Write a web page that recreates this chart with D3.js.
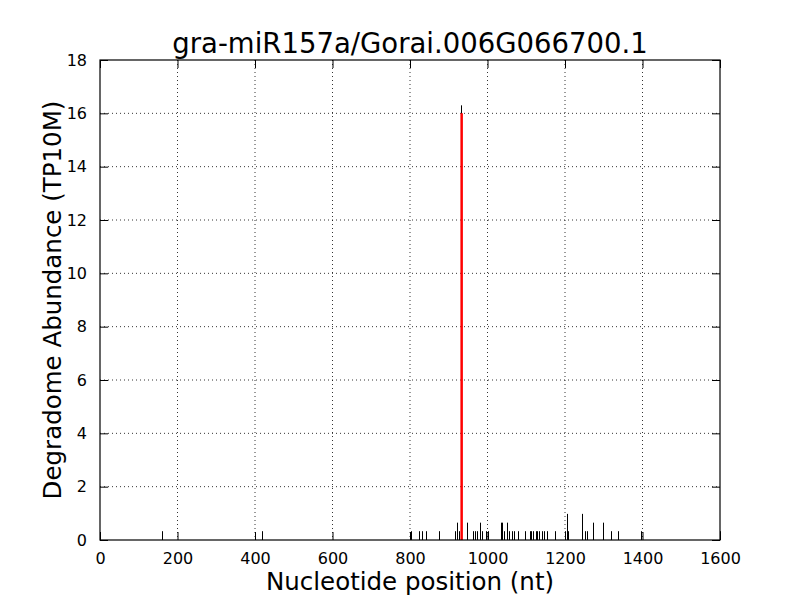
<!DOCTYPE html>
<html>
<head>
<meta charset="utf-8">
<script src="https://cdn.jsdelivr.net/npm/d3@7"></script>
<style>
  body { margin: 0; background: #fff; }
  svg { font-family: "DejaVu Sans", sans-serif; }
  .grid line { stroke: #000; stroke-dasharray: 1,3; stroke-width: 0.8; }
</style>
</head>
<body>
<svg id="chart" width="800" height="600"></svg>
<script>
const title = "gra-miR157a/Gorai.006G066700.1";
const xLabel = "Nucleotide position (nt)";
const yLabel = "Degradome Abundance (TP10M)";

const xTicks = [0, 200, 400, 600, 800, 1000, 1200, 1400, 1600];
const yTicks = [0, 2, 4, 6, 8, 10, 12, 14, 16, 18];

// degradome reads (position, abundance)
const positions = [159, 419, 802, 824, 832, 840, 876, 915, 921, 926, 932,
  948, 963, 968, 974, 981, 987, 996, 1002, 1034, 1038, 1043, 1050, 1055, 1062, 1069,
  1078, 1097, 1110, 1113, 1118, 1125, 1128, 1133, 1140, 1146, 1153, 1174,
  1200, 1204, 1209, 1245, 1252, 1256, 1271, 1297, 1318, 1338, 1397, 1599];
const abundance = [0.33, 0.33, 0.33, 0.33, 0.33, 0.33, 0.33, 0.33, 0.65, 0.33, 16.3,
  0.65, 0.33, 0.33, 0.33, 0.65, 0.33, 0.33, 0.33, 0.65, 0.65, 0.33, 0.65, 0.33, 0.33, 0.33,
  0.33, 0.33, 0.33, 0.33, 0.33, 0.33, 0.33, 0.33, 0.33, 0.33, 0.33, 0.33,
  0.33, 0.98, 0.33, 0.98, 0.33, 0.33, 0.65, 0.65, 0.33, 0.33, 0.33, 0.33];

// predicted cleavage site
const sitePos = [932];
const siteVal = [16.0];

const margin = { left: 100, right: 80, top: 60, bottom: 60 };
const svg = d3.select("#chart");
const width = 800 - margin.left - margin.right;
const height = 600 - margin.top - margin.bottom;

const chart = svg.append("g")
  .attr("transform", "translate(" + margin.left + "," + margin.top + ")");

const xScale = d3.scaleLinear().domain([0, 1600]).range([0, width]);
const yScale = d3.scaleLinear().domain([0, 18]).range([height, 0]);

// grid
const grid = chart.append("g").attr("class", "grid");
grid.selectAll(".gx").data(xTicks.slice(1, -1)).enter().append("line")
  .attr("x1", d => xScale(d)).attr("x2", d => xScale(d))
  .attr("y1", 0).attr("y2", height);
grid.selectAll(".gy").data(yTicks.slice(1, -1)).enter().append("line")
  .attr("y1", d => yScale(d)).attr("y2", d => yScale(d))
  .attr("x1", 0).attr("x2", width);

// reads
const data = positions.map((p, i) => ({ pos: p, val: abundance[i] }));
chart.selectAll(".read").data(data).enter().append("line")
  .attr("class", "read")
  .attr("x1", d => Math.round(xScale(d.pos)) + 0.5)
  .attr("x2", d => Math.round(xScale(d.pos)) + 0.5)
  .attr("y1", yScale(0))
  .attr("y2", d => yScale(d.val))
  .attr("stroke", "#000")
  .attr("stroke-width", 1);

chart.selectAll(".site").data(sitePos.map((p, i) => ({ pos: p, val: siteVal[i] })))
  .enter().append("line")
  .attr("x1", d => xScale(d.pos) + 0.5)
  .attr("x2", d => xScale(d.pos) + 0.5)
  .attr("y1", yScale(0))
  .attr("y2", d => yScale(d.val))
  .attr("stroke", "#ff0000")
  .attr("stroke-width", 2.5);

// axes: inward ticks on all four sides
const fmt = d3.format("d");
const xAxisB = d3.axisBottom(xScale).tickValues(xTicks).tickFormat(fmt).tickSizeInner(-8).tickSizeOuter(0).tickPadding(13);
const xAxisT = d3.axisTop(xScale).tickValues(xTicks).tickSizeInner(-8).tickSizeOuter(0).tickFormat("");
const yAxisL = d3.axisLeft(yScale).tickValues(yTicks).tickFormat(fmt).tickSizeInner(-8).tickSizeOuter(0).tickPadding(13);
const yAxisR = d3.axisRight(yScale).tickValues(yTicks).tickSizeInner(-8).tickSizeOuter(0).tickFormat("");

function style(g) {
  g.attr("font-size", 16).attr("font-family", null);
  g.select(".domain").remove();
  g.selectAll(".tick line").attr("stroke", "#000");
  g.selectAll(".tick text").attr("fill", "#000");
}

chart.append("g").attr("transform", "translate(0," + height + ")").call(xAxisB).call(style);
chart.append("g").call(xAxisT).call(style);
chart.append("g").call(yAxisL).call(style);
chart.append("g").attr("transform", "translate(" + width + ",0)").call(yAxisR).call(style);

// frame
chart.append("rect")
  .attr("x", 0).attr("y", 0).attr("width", width).attr("height", height)
  .attr("fill", "none").attr("stroke", "#000").attr("stroke-width", 1.2);

// labels
svg.append("text")
  .attr("x", margin.left + width / 2).attr("y", 53)
  .attr("text-anchor", "middle").attr("font-size", 27.5)
  .text(title);

svg.append("text")
  .attr("x", margin.left + width / 2).attr("y", 590)
  .attr("text-anchor", "middle").attr("font-size", 24.5)
  .text(xLabel);

svg.append("text")
  .attr("transform", "translate(61," + (margin.top + height / 2) + ") rotate(-90)")
  .attr("text-anchor", "middle").attr("font-size", 24.5)
  .text(yLabel);
</script>
</body>
</html>
